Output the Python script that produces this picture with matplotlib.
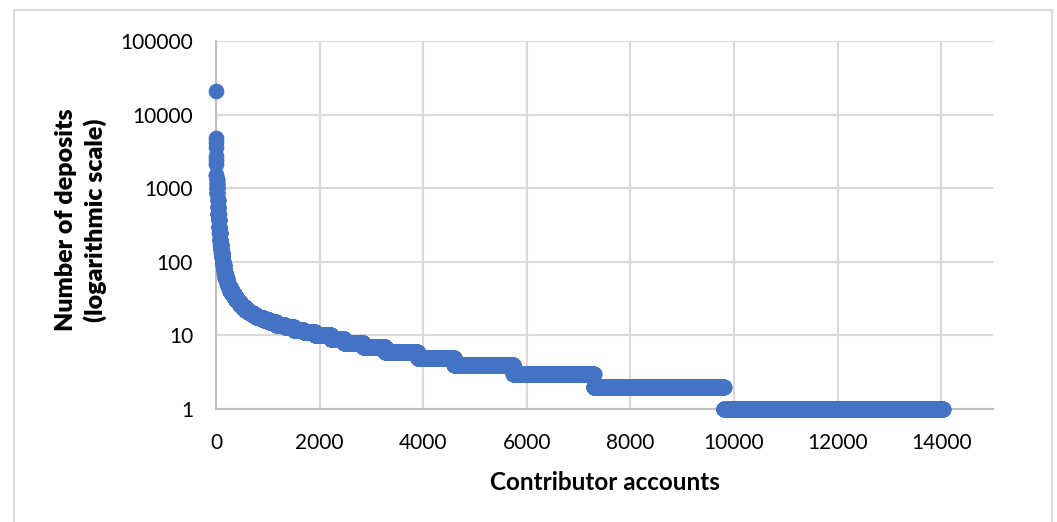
import numpy as np
import matplotlib
matplotlib.use("Agg")
import matplotlib.pyplot as plt
from matplotlib.patches import Rectangle

# Deposit levels (number of deposits) and how many contributor accounts have each level,
# read off the rank-ordered scatter (accounts sorted by descending deposits)
deposit_levels = [21000, 4800, 4300, 3600, 2700, 2400, 2100, 1500, 1300, 1150, 1000,
                  850, 700, 550, 450, 370, 300, 250, 200, 170, 150, 130, 115, 100,
                  90, 80, 70, 60, 55, 50, 45, 40, 36, 33, 30, 28, 26, 24, 22, 21, 20,
                  19, 18, 17, 16, 15, 14, 13, 12, 11, 10, 9, 8, 7, 6, 5, 4, 3, 2, 1]
account_counts = [1, 1, 1, 1, 1, 1, 1, 2, 3, 4, 6,
                  6, 6, 7, 8, 8, 9, 9, 10, 10, 10, 10, 10, 12,
                  12, 13, 18, 25, 15, 20, 30, 40, 40, 35, 40, 35, 45, 50, 65, 40, 50,
                  60, 70, 80, 110, 130, 170, 170, 190, 220, 305, 260, 370, 420, 625, 710,
                  1140, 1550, 2510, 4230]

x_ticks = [0, 2000, 4000, 6000, 8000, 10000, 12000, 14000]
y_ticks = [1, 10, 100, 1000, 10000, 100000]
y_ticklabels = ["1", "10", "100", "1000", "10000", "100000"]

deposits = np.repeat(deposit_levels, account_counts)
ranks = np.arange(1, len(deposits) + 1)

W, H = 1057, 522
fig = plt.figure(figsize=(W / 100, H / 100), dpi=100)
fig.patch.set_facecolor("white")

# outer chart border
fig.add_artist(Rectangle((14 / W, -0.05), (1052 - 14) / W, 1 - 10 / H + 0.05,
                         transform=fig.transFigure, fill=False,
                         edgecolor="#d9d9d9", linewidth=1.5))

ax = fig.add_axes([216 / W, 1 - 409 / H, (993 - 216) / W, (409 - 41) / H])
ax.set_yscale("log")
ax.set_xlim(0, 15000)
ax.set_ylim(1, 100000)

ax.plot(ranks, deposits, linestyle="none", marker="o", markersize=11.3,
        markerfacecolor="#4472C4", markeredgecolor="#4472C4", markeredgewidth=0,
        clip_on=False, zorder=3)

ax.set_xticks(x_ticks)
ax.set_xticklabels([str(t) for t in x_ticks])
ax.set_yticks(y_ticks)
ax.set_yticklabels(y_ticklabels)
ax.yaxis.set_minor_locator(matplotlib.ticker.NullLocator())
ax.grid(True, which="major", color="#d9d9d9", linewidth=1.5)
ax.set_axisbelow(True)

for s in ["top", "right"]:
    ax.spines[s].set_visible(False)
for s in ["left", "bottom"]:
    ax.spines[s].set_color("#bfbfbf")
    ax.spines[s].set_linewidth(1.5)

ax.tick_params(axis="both", length=0, labelsize=15, colors="black")
ax.tick_params(axis="y", pad=16.5)
ax.tick_params(axis="x", pad=17)
for lab in ax.get_xticklabels() + ax.get_yticklabels():
    lab.set_fontfamily("Lato")

ax.set_xlabel("Contributor accounts", fontsize=17.5, fontweight="bold",
              fontfamily="Lato", labelpad=13)

fig.text(81 / W, 1 - 220 / H, "Number of deposits\n(logarithmic scale)",
         rotation=90, ha="center", va="center", multialignment="center",
         fontsize=18, fontweight="heavy", fontfamily="Lato", linespacing=1.35)

fig.savefig("out.png", dpi=100)
